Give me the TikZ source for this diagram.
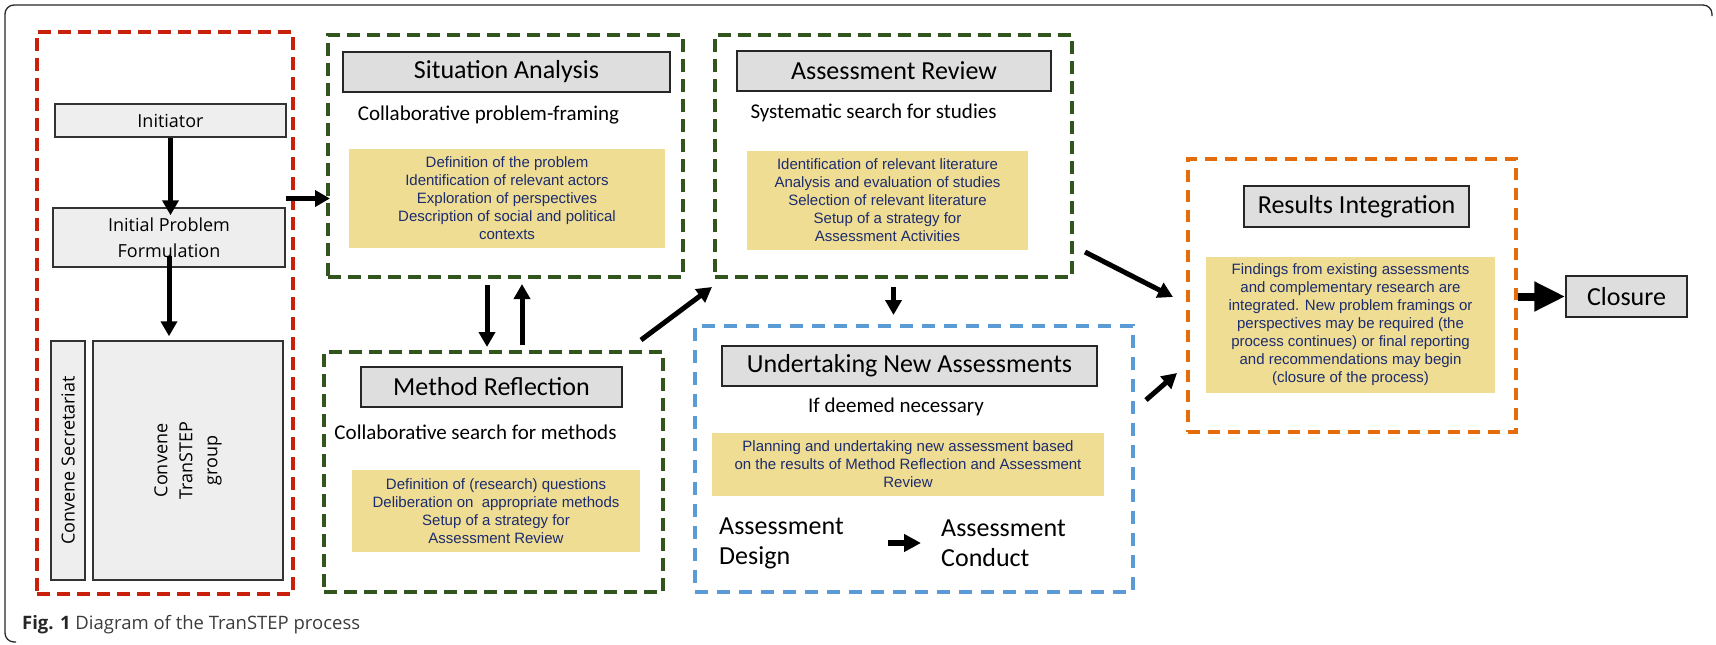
\documentclass[tikz,border=0pt]{standalone}
\usepackage{fontspec}
\setmainfont{Carlito}
\newfontfamily\boxfont{Open Sans}
\newfontfamily\listfont{Liberation Sans}
\usepackage{tikz}
\usetikzlibrary{arrows.meta,positioning,calc}

\definecolor{phasered}{RGB}{200,32,10}
\definecolor{phasegreen}{RGB}{50,85,30}
\definecolor{phaseblue}{RGB}{91,155,213}
\definecolor{phaseorange}{RGB}{228,108,10}
\definecolor{taskyellow}{RGB}{239,221,147}
\definecolor{tasknavy}{RGB}{28,44,110}
\definecolor{titlegray}{RGB}{222,222,222}
\definecolor{prepgray}{RGB}{238,238,238}
\definecolor{captiongray}{RGB}{60,60,60}

\begin{document}
\begin{tikzpicture}[
    x=1pt, y=-1pt,
    phase/.style={rectangle, line width=4pt, dash pattern=on 13pt off 7pt, inner sep=0pt},
    title/.style={rectangle, draw=black!85, fill=titlegray, line width=1.5pt, inner sep=0pt, font=\fontsize{26}{30}\selectfont},
    sub/.style={inner sep=0pt, font=\fontsize{21}{25}\selectfont},
    task/.style={rectangle, fill=taskyellow, text=tasknavy, align=center, inner sep=0pt, font=\listfont\fontsize{15}{18}\selectfont},
    prep/.style={rectangle, draw=black!80, fill=prepgray, line width=1.5pt, align=center, inner sep=0pt, font=\boxfont\fontsize{18}{26}\selectfont},
    flow/.style={-{Triangle[length=15pt,width=16pt]}, line width=5pt},
    bigflow/.style={-{Triangle[length=31pt,width=28pt]}, line width=8pt}
]
\useasboundingbox (0,0) rectangle (1716,645);

% Frame and caption
\draw[line width=1.3pt, black!85, rounded corners=9pt] (16,642) -- (5,642) -- (5,5) -- (1712,5) -- (1712,16);
\node[anchor=west, inner sep=0pt, text=captiongray, font=\boxfont\fontsize{18.5}{22}\selectfont] (caption) at (22,625) {\textbf{\color{black!85}Fig. 1} Diagram of the TranSTEP process};

% Preparation
\node[phase, draw=phasered, minimum width=256pt, minimum height=562pt] (prepare) at (165,313) {};
\node[prep, minimum width=231pt, minimum height=33pt] (init) at (170.5,120.5) {Initiator};
\node[prep, minimum width=232pt, minimum height=59pt] (ipf) at (169,237.5) {Initial Problem\\Formulation};
\node[prep, rotate=90, minimum width=239pt, minimum height=34pt] (secretariat) at (68,460.5) {Convene Secretariat};
\node[prep, rotate=90, minimum width=239pt, minimum height=190pt, font=\boxfont\fontsize{18}{25}\selectfont] (group) at (188,460.5) {Convene\\TranSTEP\\group};

% Situation Analysis
\node[phase, draw=phasegreen, minimum width=355pt, minimum height=242pt] (sa) at (505.5,156) {};
\node[title, minimum width=327pt, minimum height=40pt] (satitle) at (506.5,72) {Situation Analysis};
\node[sub] (sasub) at (488.5,115) {Collaborative problem-framing};
\node[task, minimum width=316pt, minimum height=99pt] (sayel) at (507,198.5) {Definition of the problem\\Identification of relevant actors\\Exploration of perspectives\\Description of social and political\\contexts};

% Assessment Review
\node[phase, draw=phasegreen, minimum width=357pt, minimum height=242pt] (ar) at (893.5,156) {};
\node[title, minimum width=314pt, minimum height=40pt] (artitle) at (894,71) {Assessment Review};
\node[sub] (arsub) at (873.5,113) {Systematic search for studies};
\node[task, minimum width=281pt, minimum height=99pt] (aryel) at (887.5,200.5) {Identification of relevant literature\\Analysis and evaluation of studies\\Selection of relevant literature\\Setup of a strategy for\\Assessment Activities};

% Method Reflection
\node[phase, draw=phasegreen, minimum width=339pt, minimum height=240pt] (mr) at (493.5,472) {};
\node[title, minimum width=261pt, minimum height=40pt] (mrtitle) at (491.5,387) {Method Reflection};
\node[sub] (mrsub) at (475.5,432) {Collaborative search for methods};
\node[task, minimum width=288pt, minimum height=82pt] (mryel) at (496,511) {Definition of (research) questions\\Deliberation on\ \ appropriate methods\\Setup of a strategy for\\Assessment Review};

% Undertaking New Assessments
\node[phase, draw=phaseblue, minimum width=438pt, minimum height=266pt, dash pattern=on 13pt off 9pt] (una) at (914,459) {};
\node[title, minimum width=375pt, minimum height=40pt] (unatitle) at (909.5,366) {Undertaking New Assessments};
\node[sub] (unasub) at (896,407) {If deemed necessary};
\node[task, minimum width=392pt, minimum height=63pt] (unayel) at (908,464.5) {Planning and undertaking new assessment based\\on the results of Method Reflection and Assessment\\Review};
\node[anchor=west, align=left, inner sep=0pt, font=\fontsize{26}{30}\selectfont] (design) at (719,543) {Assessment\\Design};
\node[anchor=west, align=left, inner sep=0pt, font=\fontsize{26}{30}\selectfont] (conduct) at (941,543) {Assessment\\Conduct};

% Results Integration
\node[phase, draw=phaseorange, minimum width=328pt, minimum height=273pt, dash pattern=on 12pt off 8pt] (ri) at (1352,295.5) {};
\node[title, minimum width=225pt, minimum height=41pt] (rititle) at (1356.5,206.5) {Results Integration};
\node[task, minimum width=289pt, minimum height=136pt] (riyel) at (1350.5,325) {Findings from existing assessments\\and complementary research are\\integrated. New problem framings or\\perspectives may be required (the\\process continues) or final reporting\\and recommendations may begin\\(closure of the process)};
\node[title, minimum width=121pt, minimum height=41pt] (close) at (1626.5,296.5) {Closure};

% Arrows - preparation
\draw[flow, shorten >=-8pt] (init.south) -- (init.south |- ipf.north);
\draw[flow, shorten <=-12pt, shorten >=4pt] (ipf.south) -- (ipf.south |- group.east);
\draw[flow, shorten >=-4pt] (ipf.east |- sayel) -- (sa.west |- sayel);

% Arrows - between phases
\draw[flow, shorten <=6pt, shorten >=3pt] ([xshift=-18.5pt]sa.south) -- ([xshift=-18.5pt]sa.south |- mr.north);
\draw[flow, shorten <=5pt, shorten >=5pt] ([xshift=16.5pt]sa.south |- mr.north) -- ([xshift=16.5pt]sa.south);
\draw[flow] ($(mr.north east)+(-24,-10)$) -- ($(ar.south west)+(-1,8)$);
\draw[flow, shorten <=8pt, shorten >=9pt] (ar.south) -- (ar.south |- una.north);
\draw[flow] ($(ar.east)+(11,96)$) -- ($(ri.west)+(-13,1.5)$);
\draw[flow] ($(una.east)+(11,-59)$) -- ($(ri.west)+(-9,77.5)$);
\draw[flow, line width=6pt, -{Triangle[length=17pt,width=17pt]}, shorten <=44pt, shorten >=20pt] (design.east |- conduct.west) -- (conduct.west);
\draw[bigflow] (ri.east |- close) -- (close.west);

\end{tikzpicture}
\end{document}
